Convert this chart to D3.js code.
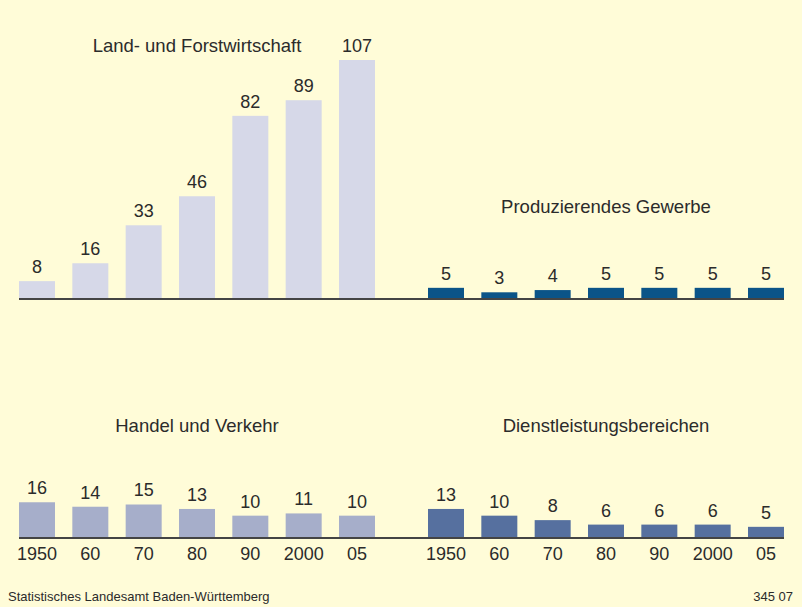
<!DOCTYPE html>
<html>
<head>
<meta charset="utf-8">
<script src="https://cdn.jsdelivr.net/npm/d3@7"></script>
<style>
  html, body { margin: 0; padding: 0; background: #fffcd8; }
  svg { display: block; font-family: "Liberation Sans", Arial, sans-serif; }
</style>
</head>
<body>
<div id="chart"></div>
<script>
const years = ["1950", "60", "70", "80", "90", "2000", "05"];
const landwirtschaft = [8, 16, 33, 46, 82, 89, 107];
const gewerbe = [5, 3, 4, 5, 5, 5, 5];
const handel = [16, 14, 15, 13, 10, 11, 10];
const dienstleistung = [13, 10, 8, 6, 6, 6, 5];

const width = 802, height = 607;

const svg = d3.select("#chart")
    .append("svg")
    .attr("width", width)
    .attr("height", height);

svg.append("rect")
    .attr("width", width)
    .attr("height", height)
    .attr("fill", "#fffcd8");

// one unit = same height in both rows
const yTop = d3.scaleLinear().domain([0, 107]).range([299, 60]);
const yBottom = d3.scaleLinear().domain([0, 107]).range([538, 299]);

const xLeft = d3.scaleBand().domain(years).range([19, 375]).paddingInner(0.325).paddingOuter(0);
const xRight = d3.scaleBand().domain(years).range([428, 784]).paddingInner(0.325).paddingOuter(0);

const panels = [
    { title: "Land- und Forstwirtschaft", values: landwirtschaft, x: xLeft, y: yTop, color: "#d6d8e8", titleY: 52 },
    { title: "Produzierendes Gewerbe", values: gewerbe, x: xRight, y: yTop, color: "#0b5488", titleY: 213 },
    { title: "Handel und Verkehr", values: handel, x: xLeft, y: yBottom, color: "#a6aeca", titleY: 432 },
    { title: "Dienstleistungsbereichen", values: dienstleistung, x: xRight, y: yBottom, color: "#56709f", titleY: 432 }
];

panels.forEach(p => {
    const data = years.map((yr, i) => ({ year: yr, value: p.values[i] }));
    const g = svg.append("g");

    g.selectAll("rect.bar")
        .data(data)
        .enter()
        .append("rect")
        .attr("class", "bar")
        .attr("x", d => p.x(d.year))
        .attr("y", d => p.y(d.value))
        .attr("width", p.x.bandwidth())
        .attr("height", d => p.y(0) - p.y(d.value))
        .attr("fill", p.color);

    g.selectAll("text.val")
        .data(data)
        .enter()
        .append("text")
        .attr("class", "val")
        .attr("x", d => p.x(d.year) + p.x.bandwidth() / 2)
        .attr("y", d => p.y(d.value) - 8)
        .attr("text-anchor", "middle")
        .attr("font-size", 18)
        .attr("fill", "#2b2b2b")
        .text(d => d.value);

    const range = p.x.range();
    g.append("text")
        .attr("x", (range[0] + range[1]) / 2)
        .attr("y", p.titleY)
        .attr("text-anchor", "middle")
        .attr("font-size", 18.5)
        .attr("fill", "#2b2b2b")
        .text(p.title);
});

// baselines
[yTop, yBottom].forEach(y => {
    svg.append("line")
        .attr("x1", 19)
        .attr("x2", 784)
        .attr("y1", y(0))
        .attr("y2", y(0))
        .attr("stroke", "#444")
        .attr("stroke-width", 2);
});

// year labels under the bottom row
[xLeft, xRight].forEach(x => {
    svg.append("g")
        .selectAll("text")
        .data(years)
        .enter()
        .append("text")
        .attr("x", d => x(d) + x.bandwidth() / 2)
        .attr("y", 560)
        .attr("text-anchor", "middle")
        .attr("font-size", 18)
        .attr("fill", "#2b2b2b")
        .text(d => d);
});

svg.append("text")
    .attr("x", 8)
    .attr("y", 601)
    .attr("font-size", 13)
    .attr("fill", "#2b2b2b")
    .text("Statistisches Landesamt Baden-Württemberg");

svg.append("text")
    .attr("x", 793)
    .attr("y", 601)
    .attr("text-anchor", "end")
    .attr("font-size", 13)
    .attr("fill", "#2b2b2b")
    .text("345 07");
</script>
</body>
</html>
